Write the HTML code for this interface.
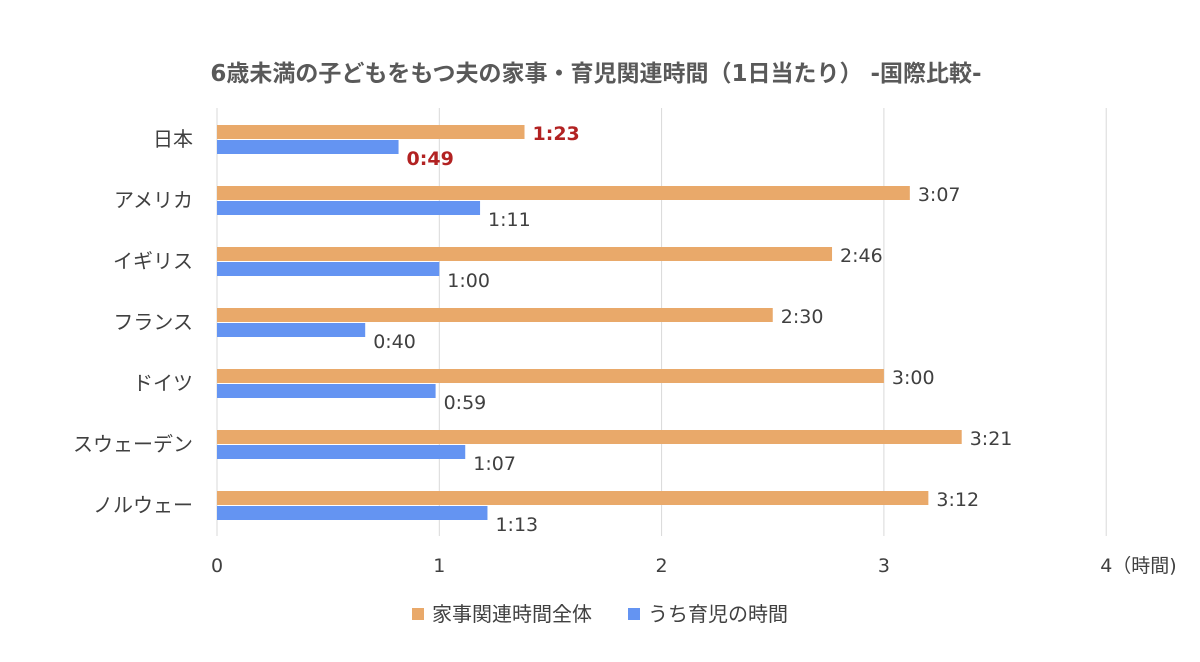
<!DOCTYPE html>
<html><head><meta charset="utf-8"><style>
body{margin:0;background:#fff;}
svg text{font-family:"DejaVu Sans","Noto Sans CJK JP",sans-serif;}
</style></head><body>
<svg id="chart" width="1200" height="657" viewBox="0 0 1200 657">
<text x="596" y="81" text-anchor="middle" font-size="23" font-weight="bold" fill="#595959">6歳未満の子どもをもつ夫の家事・育児関連時間（1日当たり） -国際比較-</text>
<g id="grid"></g><g id="bars"></g>
<g>
<rect x="412" y="608" width="12" height="12" fill="#E9A96A"/>
<text x="432" y="621" font-size="20" fill="#404040">家事関連時間全体</text>
<rect x="628" y="608" width="12" height="12" fill="#6494F2"/>
<text x="648" y="621" font-size="20" fill="#404040">うち育児の時間</text>
</g>
</svg>
<script>
const countries=["日本","アメリカ","イギリス","フランス","ドイツ","スウェーデン","ノルウェー"];
const totalLabels=["1:23","3:07","2:46","2:30","3:00","3:21","3:12"];
const childLabels=["0:49","1:11","1:00","0:40","0:59","1:07","1:13"];
const ticks=[0,1,2,3,4];
const ns="http://www.w3.org/2000/svg";
const toH=s=>{const p=s.split(":");return +p[0]+ +p[1]/60;};
const x=v=>217+v*222.3;
const rowY=i=>139+i*61;
const grid=document.getElementById("grid"),bars=document.getElementById("bars");
function mk(tag,attrs,parent,txt){const e=document.createElementNS(ns,tag);for(const k in attrs)e.setAttribute(k,attrs[k]);if(txt!==undefined)e.textContent=txt;parent.appendChild(e);return e;}
ticks.forEach(t=>{
  const l=mk("line",{x1:x(t),x2:x(t),y1:108,y2:536,stroke:"#D9D9D9","stroke-width":1},grid);
  
  
  const tx=mk("text",{x:x(t),y:572,"text-anchor":"middle","font-size":19,fill:"#404040"},grid,String(t));
  if(t===4){tx.setAttribute("text-anchor","start");tx.setAttribute("x",x(t)-6);tx.textContent="4（時間)";}
  
  
});
countries.forEach((c,i)=>{
  const cy=rowY(i);
  const cl=mk("text",{x:193,y:cy+7,"text-anchor":"end","font-size":20,fill:"#404040"},bars,c);
  
  
  const tv=toH(totalLabels[i]),cv=toH(childLabels[i]);
  const b1=mk("rect",{x:x(0),y:cy-14,width:x(tv)-x(0),height:14,fill:"#E9A96A"},bars);
  
  
  const b2=mk("rect",{x:x(0),y:cy+1,width:x(cv)-x(0),height:14,fill:"#6494F2"},bars);
  
  
  const red=i===0;
  const attr={"font-size":19,fill:red?"#B22222":"#404040","font-weight":red?"bold":"normal"};
  const t1=mk("text",Object.assign({x:x(tv)+8,y:cy+1},attr),bars,totalLabels[i]);
  
  
  const t2=mk("text",Object.assign({x:x(cv)+8,y:cy+26},attr),bars,childLabels[i]);
  
  
});
</script>
</body></html>
